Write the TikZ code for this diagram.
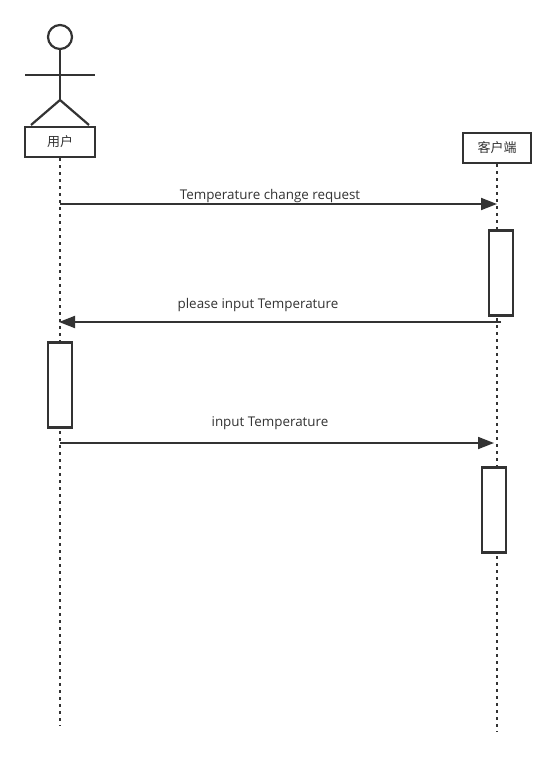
\documentclass[tikz,border=0pt]{standalone}
\usepackage{fontspec}
\setmainfont{Open Sans}
\newfontfamily\cjk{Noto Sans CJK SC}
\usetikzlibrary{arrows.meta}
\definecolor{ink}{HTML}{333333}
\tikzset{
  x=1pt,y=-1pt,
  part/.style={draw=ink,line width=2.2pt,fill=white,minimum width=70pt,minimum height=30pt,inner sep=0pt,text=ink,font=\cjk\fontsize{13}{15}\selectfont},
  partb/.style={part,minimum width=68pt},
  life/.style={draw=ink,line width=1.7pt,dash pattern=on 3pt off 4pt},
  act/.style={draw=ink,line width=2.2pt,fill=white,minimum width=24pt,minimum height=85pt,inner sep=0pt},
  msg/.style={draw=ink,line width=1.8pt,-{Triangle[length=16pt,width=12pt]}},
  lab/.style={text=ink,inner sep=0pt,font=\fontsize{13.4}{16}\selectfont},
  stick/.style={draw=ink,line width=2.2pt}
}
\begin{document}
\begin{tikzpicture}
\useasboundingbox (0,0) rectangle (556,757);
\fill[white] (0,0) rectangle (556,757);
% lifelines
\coordinate (uEnd) at (60,726);
\coordinate (cEnd) at (497,732);
\node[part] (user) at (60,142) {\raisebox{-1pt}{用户}};
\node[partb] (client) at (497,148) {\raisebox{-1pt}{客户端}};
\draw[life] (user.south) -- (uEnd);
\draw[life] (client.south) -- (cEnd);
% actor
\node[circle,draw=ink,line width=2.2pt,minimum size=24pt,inner sep=0pt] (head) at (60,37) {};
\coordinate (hip) at (60,100);
\coordinate (armL) at (25,75);
\coordinate (armR) at (95,75);
\coordinate (legL) at (31,125);
\coordinate (legR) at (89,125);
\draw[stick] (head.south) -- (hip);
\draw[stick] (armL) -- (armR);
\draw[stick] (legL) -- (hip) -- (legR);
% activations
\node[act] (a1) at (501,273) {};
\node[act] (a2) at (60,385) {};
\node[act] (a3) at (494,510) {};
% messages
\coordinate (m1s) at (60,204);
\coordinate (m1e) at (497,204);
\coordinate (m2s) at (501,322);
\coordinate (m2e) at (59,322);
\coordinate (m3s) at (60,443);
\coordinate (m3e) at (494,443);
\draw[msg] (m1s) -- (m1e);
\draw[msg] (m2s) -- (m2e);
\draw[msg] (m3s) -- (m3e);
\node[lab] (l1) at (270,196) {Temperature change request};
\node[lab] (l2) at (258,305) {please input Temperature};
\node[lab] (l3) at (270,423) {input Temperature};
\end{tikzpicture}
\end{document}
